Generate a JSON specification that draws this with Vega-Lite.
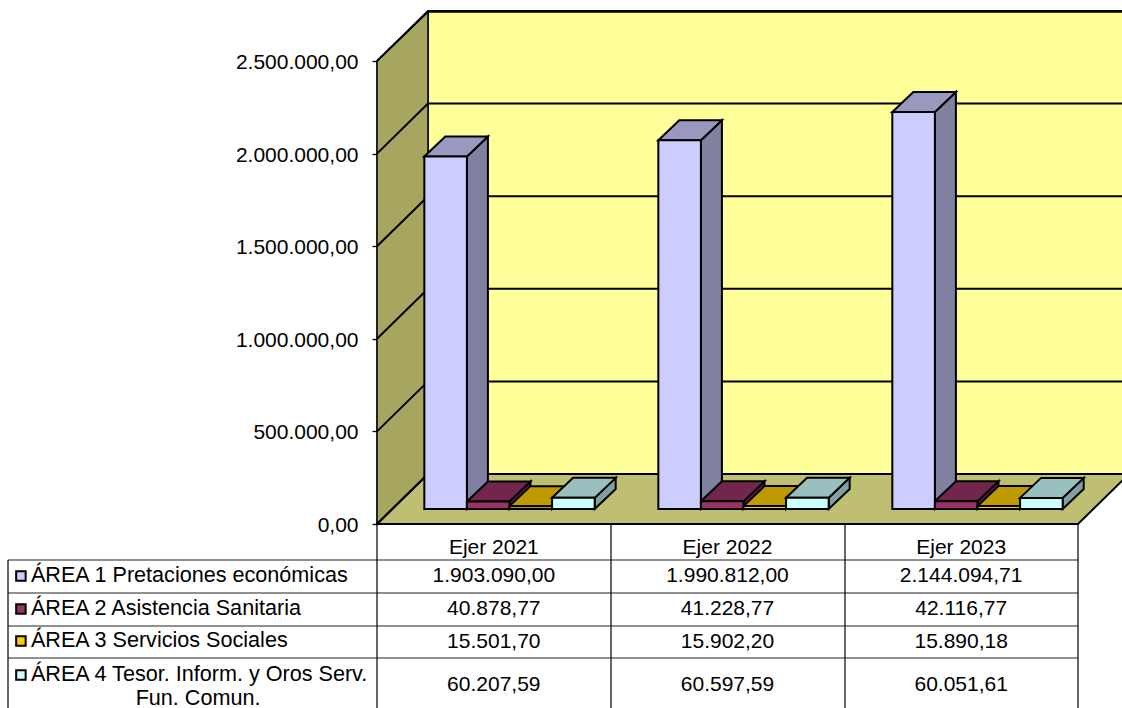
{
"$schema":"https://vega.github.io/schema/vega-lite/v6.json",
"width":1122,"height":708,"autosize":{"type":"none"},"padding":0,"background":"white",
"config":{"view":{"stroke":null},"locale":{"number":{"decimal":",","thousands":".","grouping":[3],"currency":["","€"]}},"text":{"font":"Liberation Sans","fontSize":21,"fill":"black"}},
"datasets":{
"barras":[
{"area":"ÁREA 1 Pretaciones económicas","fila":1,"ejer":"Ejer 2021","valor":1903090.00},
{"area":"ÁREA 1 Pretaciones económicas","fila":1,"ejer":"Ejer 2022","valor":1990812.00},
{"area":"ÁREA 1 Pretaciones económicas","fila":1,"ejer":"Ejer 2023","valor":2144094.71},
{"area":"ÁREA 2 Asistencia Sanitaria","fila":2,"ejer":"Ejer 2021","valor":40878.77},
{"area":"ÁREA 2 Asistencia Sanitaria","fila":2,"ejer":"Ejer 2022","valor":41228.77},
{"area":"ÁREA 2 Asistencia Sanitaria","fila":2,"ejer":"Ejer 2023","valor":42116.77},
{"area":"ÁREA 3 Servicios Sociales","fila":3,"ejer":"Ejer 2021","valor":15501.70},
{"area":"ÁREA 3 Servicios Sociales","fila":3,"ejer":"Ejer 2022","valor":15902.20},
{"area":"ÁREA 3 Servicios Sociales","fila":3,"ejer":"Ejer 2023","valor":15890.18},
{"area":"ÁREA 4 Tesor. Inform. y Oros Serv.","fila":4,"ejer":"Ejer 2021","valor":60207.59},
{"area":"ÁREA 4 Tesor. Inform. y Oros Serv.","fila":4,"ejer":"Ejer 2022","valor":60597.59},
{"area":"ÁREA 4 Tesor. Inform. y Oros Serv.","fila":4,"ejer":"Ejer 2023","valor":60051.61}],
"rejilla":[{"valor":0},{"valor":500000},{"valor":1000000},{"valor":1500000},{"valor":2000000},{"valor":2500000}],
"filas":[{"area":"ÁREA 1 Pretaciones económicas","fila":1},{"area":"ÁREA 2 Asistencia Sanitaria","fila":2},{"area":"ÁREA 3 Servicios Sociales","fila":3},{"area":"ÁREA 4 Tesor. Inform. y Oros Serv.","fila":4}],
"lineas":[{"linea":1},{"linea":2},{"linea":3},{"linea":4}],
"columnas":[{"col":-1,"desde":1,"hasta":5},{"col":0,"desde":0,"hasta":5},{"col":1,"desde":0,"hasta":5},{"col":2,"desde":0,"hasta":5},{"col":3,"desde":0,"hasta":5}],
"ejercicios":[{"ejer":"Ejer 2021"},{"ejer":"Ejer 2022"},{"ejer":"Ejer 2023"}]
},
"resolve":{"scale":{"x":"independent","y":"independent","fill":"independent","xOffset":"independent"}},
"layer":[
{"data":{"values":[{"valor":0}]},
 "mark":{"type":"point","filled":true,"opacity":1,"size":4,"fill":"#FFFF99","stroke":"black","strokeWidth":1.5,"shape":"M51 -50L51 -512L760 -512L760 -50Z"},
 "encoding":{"x":{"datum":0,"type":"quantitative","scale":{"domain":[0,3],"range":[377,1078]},"axis":null},"y":{"field":"valor","type":"quantitative","scale":{"domain":[0,2500000],"range":[524,61]},"axis":null}}},
{"data":{"values":[{"valor":0}]},
 "mark":{"type":"point","filled":true,"opacity":1,"size":4,"fill":"#A6A660","stroke":"black","strokeWidth":1.5,"shape":"M0 0L51 -50L51 -512L0 -463Z"},
 "encoding":{"x":{"datum":0,"type":"quantitative","scale":{"domain":[0,3],"range":[377,1078]},"axis":null},"y":{"field":"valor","type":"quantitative","scale":{"domain":[0,2500000],"range":[524,61]},"axis":null}}},
{"data":{"values":[{"valor":0}]},
 "mark":{"type":"point","filled":true,"opacity":1,"size":4,"fill":"#BFBF73","stroke":"black","strokeWidth":2,"shape":"M0 0L51 -50L752 -50L701 0Z"},
 "encoding":{"x":{"datum":0,"type":"quantitative","scale":{"domain":[0,3],"range":[377,1078]},"axis":null},"y":{"field":"valor","type":"quantitative","scale":{"domain":[0,2500000],"range":[524,61]},"axis":null}}},
{"data":{"name":"rejilla"},
 "mark":{"type":"point","filled":false,"opacity":1,"size":4,"stroke":"black","strokeWidth":2,"shape":"M0 0L51 -50L760 -50"},
 "encoding":{"x":{"datum":0,"type":"quantitative","scale":{"domain":[0,3],"range":[377,1078]},"axis":null},
  "y":{"field":"valor","type":"quantitative","scale":{"domain":[0,2500000],"range":[524,61]},
   "axis":{"orient":"left","offset":-377,"title":null,"values":[0,500000,1000000,1500000,2000000,2500000],"format":",.2f","labelFont":"Liberation Sans","labelFontSize":21,"labelColor":"black","labelPadding":14,"labelOffset":1.5,"tickSize":5,"tickColor":"black","tickWidth":1.3,"domainColor":"black","domainWidth":2,"grid":false}}}},
{"data":{"name":"barras"},
 "mark":{"type":"point","filled":true,"opacity":1,"size":4,"stroke":"black","strokeWidth":2,"shape":{"expr":"'M21.3 -15L42.3 -35L42.3 '+(datum.valor*463/2500000-35)+'L21.3 '+(datum.valor*463/2500000-15)+'Z'"}},
 "encoding":{"x":{"field":"ejer","type":"nominal","scale":{"range":[392.5,1094.5],"paddingInner":0.272,"paddingOuter":0.136},"axis":null},
  "xOffset":{"field":"area","type":"nominal"},
  "y":{"field":"valor","type":"quantitative","scale":{"domain":[0,2500000],"range":[524,61]},"axis":null},
  "fill":{"field":"area","type":"nominal","legend":null,"scale":{"range":["#8080A0","#602040","#A08000","#80A0A0"]}}}},
{"data":{"name":"barras"},
 "mark":{"type":"point","filled":true,"opacity":1,"size":4,"stroke":"black","strokeWidth":2,"shape":"M-21.3 -15L21.3 -15L42.3 -35L-0.3 -35Z"},
 "encoding":{"x":{"field":"ejer","type":"nominal","scale":{"range":[392.5,1094.5],"paddingInner":0.272,"paddingOuter":0.136},"axis":null},
  "xOffset":{"field":"area","type":"nominal"},
  "y":{"field":"valor","type":"quantitative","scale":{"domain":[0,2500000],"range":[524,61]},"axis":null},
  "fill":{"field":"area","type":"nominal","legend":null,"scale":{"range":["#9999BF","#73264D","#BF9900","#99BFBF"]}}}},
{"data":{"name":"barras"},
 "mark":{"type":"bar","stroke":"black","strokeWidth":2,"yOffset":-15,"y2Offset":-15},
 "encoding":{"x":{"field":"ejer","type":"nominal","scale":{"range":[392.5,1094.5],"paddingInner":0.272,"paddingOuter":0.136},"axis":null},
  "xOffset":{"field":"area","type":"nominal"},
  "y":{"field":"valor","type":"quantitative","scale":{"domain":[0,2500000],"range":[524,61]},"axis":null},
  "fill":{"field":"area","type":"nominal","legend":null,"scale":{"range":["#CCCCFF","#993366","#FFCC00","#CCFFFF"]}}}},
{"data":{"name":"lineas"},
 "mark":{"type":"rule","stroke":"#222222","strokeWidth":1.2},
 "encoding":{"x":{"datum":-1,"type":"quantitative","scale":{"domain":[-1,0,1,2,3],"range":[8,377,611,845,1078]},"axis":null},"x2":{"datum":3},
  "y":{"field":"linea","type":"quantitative","scale":{"domain":[0,1,2,3,4,5],"range":[524,560,593,626,658,708]},"axis":null}}},
{"data":{"name":"columnas"},
 "mark":{"type":"rule","stroke":"black","strokeWidth":1.2},
 "encoding":{"x":{"field":"col","type":"quantitative","scale":{"domain":[-1,0,1,2,3],"range":[8,377,611,845,1078]},"axis":null},
  "y":{"field":"desde","type":"quantitative","scale":{"domain":[0,1,2,3,4,5],"range":[524,560,593,626,658,708]},"axis":null},"y2":{"field":"hasta"}}},
{"data":{"name":"ejercicios"},
 "mark":{"type":"text","baseline":"middle"},
 "encoding":{"x":{"field":"ejer","type":"nominal","scale":{"range":[377,1078],"paddingInner":0,"paddingOuter":0},"axis":null},
  "y":{"datum":0,"type":"quantitative","scale":{"domain":[0,1,2,3,4],"range":[548,576,609,642,685]},"axis":null},
  "text":{"field":"ejer"}}},
{"data":{"name":"barras"},
 "mark":{"type":"text","baseline":"middle"},
 "encoding":{"x":{"field":"ejer","type":"nominal","scale":{"range":[377,1078],"paddingInner":0,"paddingOuter":0},"axis":null},
  "y":{"field":"fila","type":"quantitative","scale":{"domain":[0,1,2,3,4],"range":[548,576,609,642,685]},"axis":null},
  "text":{"field":"valor","type":"quantitative","format":",.2f"}}},
{"data":{"name":"filas"},
 "mark":{"type":"point","shape":"square","filled":true,"opacity":1,"size":90,"stroke":"black","strokeWidth":2},
 "encoding":{"x":{"datum":-0.965,"type":"quantitative","scale":{"domain":[-1,0],"range":[8,377]},"axis":null},
  "y":{"field":"fila","type":"quantitative","scale":{"domain":[1,2,3,4,5],"range":[576,609,641,675,699]},"axis":null},
  "fill":{"field":"area","type":"nominal","legend":null,"scale":{"range":["#CCCCFF","#993366","#FFCC00","#CCFFFF"]}}}},
{"data":{"name":"filas"},
 "mark":{"type":"text","align":"left","baseline":"middle","fontSize":21.6},
 "encoding":{"x":{"datum":-0.938,"type":"quantitative","scale":{"domain":[-1,0],"range":[8,377]},"axis":null},
  "y":{"field":"fila","type":"quantitative","scale":{"domain":[1,2,3,4,5],"range":[576,609,641,675,699]},"axis":null},
  "text":{"field":"area"}}},
{"data":{"values":[{"resto":"Fun. Comun.","fila":5}]},
 "mark":{"type":"text","align":"center","baseline":"middle","fontSize":21.6},
 "encoding":{"x":{"datum":-0.485,"type":"quantitative","scale":{"domain":[-1,0],"range":[8,377]},"axis":null},
  "y":{"field":"fila","type":"quantitative","scale":{"domain":[1,2,3,4,5],"range":[576,609,641,675,699]},"axis":null},
  "text":{"field":"resto"}}}
]
}
